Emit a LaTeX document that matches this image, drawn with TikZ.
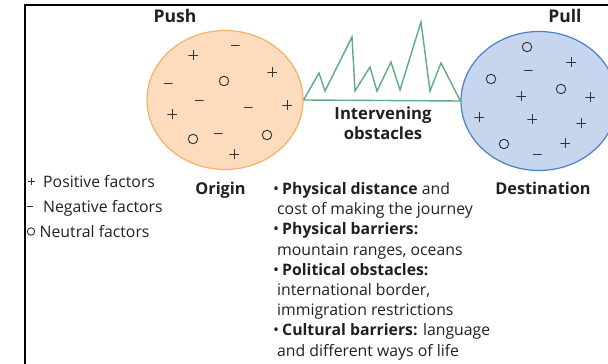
\documentclass[tikz,border=0pt]{standalone}
\usepackage{fontspec}
\setmainfont{Open Sans}
\usetikzlibrary{shapes.geometric}
\definecolor{txt}{HTML}{231F20}
\definecolor{ofill}{HTML}{FCDCBD}
\definecolor{oline}{HTML}{F0B26A}
\definecolor{bfill}{HTML}{C5D6EE}
\definecolor{bline}{HTML}{4A80C4}
\definecolor{mgreen}{HTML}{5EAC7E}
\definecolor{sign}{HTML}{333333}
\begin{document}
\begin{tikzpicture}[x=1pt,y=-1pt,
  every node/.style={inner sep=0pt,text=txt},
  body/.style={font=\fontsize{15.8}{20}\selectfont,anchor=base west},
  head/.style={font=\fontsize{16.3}{20}\selectfont\bfseries,anchor=base},
  pl/.style={rectangle,minimum width=#1,minimum height=#1,
    path picture={\draw[sign,line width=1pt]
      (path picture bounding box.north) -- (path picture bounding box.south)
      (path picture bounding box.west) -- (path picture bounding box.east);}},
  pl/.default=9.5pt,
  mi/.style={rectangle,minimum width=#1,minimum height=2pt,
    path picture={\draw[sign,line width=1pt]
      (path picture bounding box.west) -- (path picture bounding box.east);}},
  mi/.default=9pt,
  ne/.style={circle,draw=sign,line width=0.9pt,minimum size=9.5pt},
  blob/.style={ellipse,line width=1.2pt,minimum width=156pt,minimum height=139pt},
  mount/.style={draw=mgreen,line width=1.4pt,line join=miter}]
\useasboundingbox (0,0) rectangle (608,364);
\clip (0,0) rectangle (608,364);
% frame
\draw[line width=2pt,black] (25,364) -- (25,5) -- (608,5);
% blobs
\node[blob,fill=ofill,draw=oline] (origin) at (225,100) {};
\node[blob,fill=bfill,draw=bline] (dest) at (539,101) {};
% mountains
\draw[mount] (origin.east) -- (dest.west);
\draw[mount] (origin.east) -- (319,73) -- (325,91) -- (352,37) -- (355,91)
  -- (370,67) -- (377,91) -- (391,62) -- (400,90) -- (421,22) -- (430,91)
  -- (441,63) -- (dest.west);
% headings
\node[head,font=\fontsize{17.5}{20}\selectfont\bfseries] (push) at (175,23) {Push};
\node[head,font=\fontsize{17.5}{20}\selectfont\bfseries] (pull) at (565,23) {Pull};
\node[head,font=\fontsize{16.7}{20}\selectfont\bfseries] (interA) at (383,119) {Intervening};
\node[head,font=\fontsize{16.7}{20}\selectfont\bfseries] (interB) at (383,139) {obstacles};
\node[head] (orig) at (220.5,194) {Origin};
\node[head] (destl) at (543,194) {Destination};
% signs in origin
\foreach \x/\y [count=\i] in {193/55,272/72,287/105,172/114,234/154}
  \node[pl] (op\i) at (\x,\y) {};
\foreach \x/\y [count=\i] in {235/45,168/83,199/100,248/107,218/133}
  \node[mi] (om\i) at (\x,\y) {};
\foreach \x/\y [count=\i] in {224/81,193/139,267/135}
  \node[ne] (on\i) at (\x,\y) {};
% signs in destination
\foreach \x/\y [count=\i] in {571/62,521/96,590/97,479/117,532/119,581/123,565/143}
  \node[pl] (dp\i) at (\x,\y) {};
\foreach \x/\y [count=\i] in {528/70,537/154}
  \node[mi] (dm\i) at (\x,\y) {};
\foreach \x/\y [count=\i] in {527/47,491/79,561/89,504/144}
  \node[ne] (dn\i) at (\x,\y) {};
% legend
\node[pl=7.5pt] (lp) at (31.5,181.5) {};
\node[mi=6.5pt] (lm) at (30,206.5) {};
\node[ne,minimum size=7.5pt] (ln) at (31,231.5) {};
\node[body] (lpt) at (43,187) {Positive factors};
\node[body] (lmt) at (43,212) {Negative factors};
\node[body] (lnt) at (39.5,237) {Neutral factors};
% obstacles list
\node[body] (b1) at (273,194) {\makebox[9pt][l]{•}\textbf{Physical distance} and};
\node[body] (b2) at (277,214) {cost of making the journey};
\node[body] (b3) at (273,234) {\makebox[9pt][l]{•}\textbf{Physical barriers:}};
\node[body] (b4) at (277,255) {mountain ranges, oceans};
\node[body] (b5) at (273,275) {\makebox[9pt][l]{•}\textbf{Political obstacles:}};
\node[body] (b6) at (277,295) {international border,};
\node[body] (b7) at (277,315) {immigration restrictions};
\node[body] (b8) at (273,335) {\makebox[9pt][l]{•}\textbf{Cultural barriers:} language};
\node[body] (b9) at (277,356) {and different ways of life};
\end{tikzpicture}
\end{document}
